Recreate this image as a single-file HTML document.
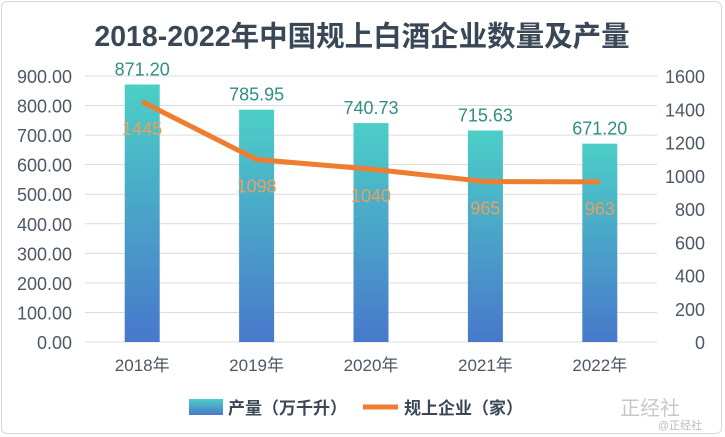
<!DOCTYPE html>
<html><head><meta charset="utf-8"><style>
body{margin:0;background:#fff;}
#wrap{position:relative;width:725px;height:437px;font-family:"Liberation Sans","Noto Sans CJK SC",sans-serif;}
#card{position:absolute;left:1px;top:1px;width:721px;height:433px;border:1px solid #d6d9de;border-radius:6px;box-sizing:border-box;}
</style></head><body>
<div id="wrap">
<div id="card"></div>
<svg id="svg" width="725" height="437" style="position:absolute;left:0;top:0">
<defs><linearGradient id="g" x1="0" y1="0" x2="0" y2="1"><stop offset="0" stop-color="#4ccfc7"/><stop offset="1" stop-color="#4878cb"/></linearGradient></defs>
<text x="362" y="46" text-anchor="middle" font-size="28.5" font-weight="bold" fill="#3a4757">2018-2022年中国规上白酒企业数量及产量</text>
</svg>
</div>
<script>
const categories=["2018年","2019年","2020年","2021年","2022年"];
const production=[871.20,785.95,740.73,715.63,671.20];
const companies=[1445,1098,1040,965,963];
const leftTicks=[0,100,200,300,400,500,600,700,800,900];
const rightTicks=[0,200,400,600,800,1000,1200,1400,1600];
const svg=document.getElementById('svg');const NS='http://www.w3.org/2000/svg';
function mk(t,a,txt){const e=document.createElementNS(NS,t);for(const k in a)e.setAttribute(k,a[k]);if(txt!==undefined)e.textContent=txt;svg.appendChild(e);return e;}
const x0=85,x1=657,y0=342,y1=76;
const bw=(x1-x0)/categories.length;
const yL=v=>y0-v/900*(y0-y1);
const yR=v=>y0-v/1600*(y0-y1);
const xc=i=>x0+bw*(i+0.5);
leftTicks.forEach(v=>{
 const l=mk('line',{x1:x0,x2:x1,y1:yL(v),y2:yL(v),stroke:'#dcdcdc','stroke-width':1});
 
 
 const t=mk('text',{x:72,y:yL(v)+7,'text-anchor':'end','font-size':18,fill:'#4d5866'},v.toFixed(2));
 
 
});
rightTicks.forEach(v=>{
 const t=mk('text',{x:705,y:yR(v)+7,'text-anchor':'end','font-size':18,fill:'#4d5866'},String(v));
 
 
});
categories.forEach((c,i)=>{
 const r=mk('rect',{x:xc(i)-17.5,y:yL(production[i]),width:35,height:y0-yL(production[i]),fill:'url(#g)'});
 
 
 const t=mk('text',{x:xc(i),y:yL(production[i])-9,'text-anchor':'middle','font-size':18,fill:'#2f8f80'},production[i].toFixed(2));
 
 
 const xt=mk('text',{x:xc(i),y:371,'text-anchor':'middle','font-size':17,fill:'#4d5866'},c);
 
 
});
const pts=companies.map((v,i)=>xc(i)+','+yR(v)).join(' ');
const pl=mk('polyline',{points:pts,fill:'none',stroke:'#ee7d2f','stroke-width':5,'stroke-linejoin':'round'});


companies.forEach((v,i)=>{
 const t=mk('text',{x:xc(i),y:yR(v)+33,'text-anchor':'middle','font-size':18,fill:'#e8a060'},String(v));
 
 
});
const lr=mk('rect',{x:189,y:399,width:34,height:16,fill:'url(#g)'});


const lt=mk('text',{x:228,y:414,'font-size':17,'font-weight':'bold',fill:'#3a4757'},'产量（万千升）');


const ll=mk('line',{x1:363,x2:398,y1:407,y2:407,stroke:'#ee7d2f','stroke-width':5});


const lt2=mk('text',{x:404,y:414,'font-size':17,'font-weight':'bold',fill:'#3a4757'},'规上企业（家）');


const w=mk('text',{x:650,y:415,'text-anchor':'middle','font-size':20,fill:'#bbbbbb',opacity:0.8},'正经社');


const w2=mk('text',{x:680,y:429,'text-anchor':'middle','font-size':11,fill:'#bbbbbb'},'@正经社');


</script>
</body></html>
